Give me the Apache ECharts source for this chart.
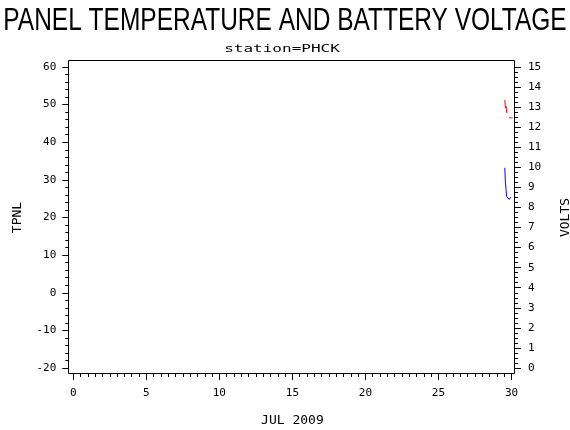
<!DOCTYPE html>
<html>
<head>
<meta charset="utf-8">
<script src="https://cdn.jsdelivr.net/npm/echarts@6/dist/echarts.min.js"></script>
<style>html,body{margin:0;padding:0;background:#fff;}#c{width:570px;height:430px;}</style>
</head>
<body>
<div id="c"></div>
<script>
// Day-of-month positions (hourly samples near the end of July 2009)
var timeDays = [29.542, 29.583, 29.625, 29.667, 29.708, 29.750, 29.792, 29.833, 29.875, 29.917, 29.958, 30.000, 30.042, 30.083];
// Panel temperature (left axis, TPNL)
var tpnl  = [33.2, 29.2, 27.5, 25.6, 25.4, 25.4, 25.3, 24.8, 24.8, 25.3, 25.4, 25.4, null, null];
// Battery voltage (right axis, VOLTS)
var volts = [13.36, 12.95, 13.05, 12.75, 12.70, null, null, 12.47, 12.47, 12.46, 12.47, 12.47, 12.46, 12.47];
var xTicks = [0, 5, 10, 15, 20, 25, 30];
var titleText = 'PANEL TEMPERATURE AND BATTERY VOLTAGE';
var subtitleText = 'station=PHCK';

function pairs(xs, ys) {
  return xs.map(function (x, i) { return [x, ys[i]]; });
}

var labelFont = { color: '#000', fontFamily: 'DejaVu Sans Mono', fontSize: 11 };
var nameFont = { color: '#000', fontFamily: 'DejaVu Sans Mono', fontSize: 13 };
var blk = { color: '#000', width: 1 };

var chart = echarts.init(document.getElementById('c'), null, { renderer: 'canvas' });
chart.setOption({
  animation: false,
  backgroundColor: '#fff',
  graphic: [
    { type: 'text', x: 285, y: 21, scaleX: 0.79, scaleY: 1,
      style: { text: titleText, fill: '#000', font: 'normal 31px "Liberation Sans"', textAlign: 'center', textVerticalAlign: 'middle' } },
    { type: 'text', x: 282, y: 49, scaleX: 1.6, scaleY: 1,
      style: { text: subtitleText, fill: '#000', font: 'normal 10px "DejaVu Sans Mono"', textAlign: 'center', textVerticalAlign: 'middle' } },
    { type: 'rect', silent: true, z: 10,
      shape: { x: 68.5, y: 60.5, width: 446, height: 313 },
      style: { fill: 'none', stroke: '#000', lineWidth: 1 } }
  ],
  grid: { left: 73.3, right: 58.5, top: 67, bottom: 62, containLabel: false, outerBoundsMode: 'none' },
  xAxis: {
    type: 'value', min: xTicks[0], max: xTicks[xTicks.length - 1], interval: 5,
    position: 'bottom', offset: 6,
    axisLine: { show: false, onZero: false },
    axisTick: { show: true, length: 6, lineStyle: blk },
    minorTick: { show: true, splitNumber: 10, length: 3, lineStyle: blk },
    splitLine: { show: false },
    axisLabel: Object.assign({ margin: 14 }, labelFont),
    name: 'JUL 2009', nameLocation: 'middle', nameGap: 40, nameTextStyle: nameFont
  },
  yAxis: [
    {
      type: 'value', min: -20, max: 60, interval: 10, position: 'left', offset: 5,
      axisLine: { show: false, onZero: false },
      axisTick: { show: true, length: 6, lineStyle: blk },
      minorTick: { show: true, splitNumber: 5, length: 3, lineStyle: blk },
      splitLine: { show: false },
      axisLabel: Object.assign({ margin: 12 }, labelFont),
      name: 'TPNL', nameLocation: 'middle', nameRotate: 90, nameGap: 44, nameTextStyle: nameFont
    },
    {
      type: 'value', min: 0, max: 15, interval: 1, position: 'right', offset: 3.5,
      axisLine: { show: false, onZero: false },
      axisTick: { show: true, length: 6, lineStyle: blk },
      minorTick: { show: true, splitNumber: 4, length: 3, lineStyle: blk },
      splitLine: { show: false },
      axisLabel: Object.assign({ margin: 13 }, labelFont),
      name: 'VOLTS', nameLocation: 'middle', nameRotate: 90, nameGap: 44, nameTextStyle: nameFont
    }
  ],
  series: [
    { name: 'TPNL', type: 'line', yAxisIndex: 0, data: pairs(timeDays, tpnl),
      showSymbol: false, symbol: 'none', connectNulls: false,
      lineStyle: { color: '#0000ff', width: 1 }, itemStyle: { color: '#0000ff' } },
    { name: 'VOLTS', type: 'line', yAxisIndex: 1, data: pairs(timeDays, volts),
      showSymbol: false, symbol: 'none', connectNulls: false,
      lineStyle: { color: '#ff0000', width: 1 }, itemStyle: { color: '#ff0000' } }
  ]
});
</script>
</body>
</html>
